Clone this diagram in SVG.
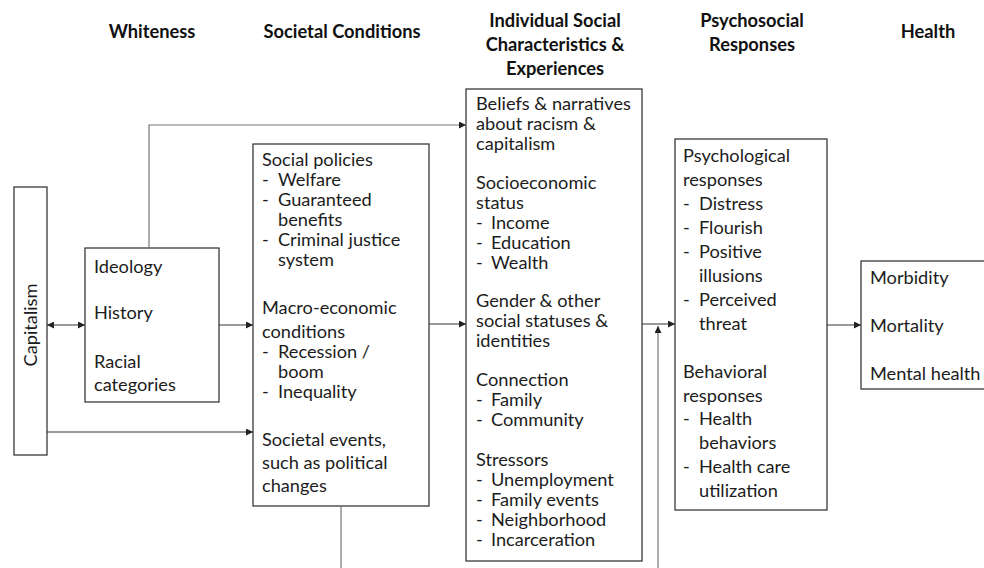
<svg xmlns="http://www.w3.org/2000/svg" width="984" height="568" viewBox="0 0 984 568">
<defs>
<marker id="ah" viewBox="0 0 10 10" refX="10" refY="5" markerWidth="7" markerHeight="7" markerUnits="userSpaceOnUse" orient="auto-start-reverse">
<path d="M0,0 L10,5 L0,10 z" fill="#222"/>
</marker>
<style>
.box{fill:#fff;stroke:#3a3a3a;stroke-width:1.3}
.t{font-family:Lato,"Liberation Sans",sans-serif;font-size:18.2px;fill:#1c1c1c}
.h{font-family:Lato,"Liberation Sans",sans-serif;font-size:18.3px;font-weight:bold;fill:#111;text-anchor:middle}
.c{fill:none;stroke:#333;stroke-width:1.2}
.g{fill:none;stroke:#777;stroke-width:1.2}
</style>
</defs>
<rect width="984" height="568" fill="#fff"/>

<g id="headers">
<text class="h" x="152" y="38">Whiteness</text>
<text class="h" x="342" y="38">Societal Conditions</text>
<text class="h" x="555" y="27">Individual Social</text>
<text class="h" x="555" y="51">Characteristics &amp;</text>
<text class="h" x="555" y="75">Experiences</text>
<text class="h" x="752" y="27">Psychosocial</text>
<text class="h" x="752" y="51">Responses</text>
<text class="h" x="928" y="38">Health</text>
</g>

<g id="capitalism">
<rect class="box" x="14" y="187" width="33" height="268"/>
<text class="t" transform="translate(37,325) rotate(-90)" text-anchor="middle">Capitalism</text>
</g>

<g id="whiteness">
<rect class="box" x="85" y="248" width="134" height="154"/>
<text class="t" x="94" y="273">Ideology</text>
<text class="t" x="94" y="319">History</text>
<text class="t" x="94" y="368">Racial</text>
<text class="t" x="94" y="391">categories</text>
</g>

<g id="societal">
<rect class="box" x="253" y="144" width="176" height="362"/>
<text class="t" x="262" y="166">Social policies</text>
<text class="t" x="262" y="186">-</text><text class="t" x="278" y="186">Welfare</text>
<text class="t" x="262" y="206">-</text><text class="t" x="278" y="206">Guaranteed</text>
<text class="t" x="278" y="226">benefits</text>
<text class="t" x="262" y="246">-</text><text class="t" x="278" y="246">Criminal justice</text>
<text class="t" x="278" y="266">system</text>
<text class="t" x="262" y="314">Macro-economic</text>
<text class="t" x="262" y="338">conditions</text>
<text class="t" x="262" y="358">-</text><text class="t" x="278" y="358">Recession /</text>
<text class="t" x="278" y="378">boom</text>
<text class="t" x="262" y="398">-</text><text class="t" x="278" y="398">Inequality</text>
<text class="t" x="262" y="446">Societal events,</text>
<text class="t" x="262" y="469">such as political</text>
<text class="t" x="262" y="492">changes</text>
</g>

<g id="individual">
<rect class="box" x="466" y="89" width="176" height="472"/>
<text class="t" x="476" y="110">Beliefs &amp; narratives</text>
<text class="t" x="476" y="130">about racism &amp;</text>
<text class="t" x="476" y="150">capitalism</text>
<text class="t" x="476" y="189">Socioeconomic</text>
<text class="t" x="476" y="209">status</text>
<text class="t" x="476" y="229">-</text><text class="t" x="491" y="229">Income</text>
<text class="t" x="476" y="249">-</text><text class="t" x="491" y="249">Education</text>
<text class="t" x="476" y="269">-</text><text class="t" x="491" y="269">Wealth</text>
<text class="t" x="476" y="307">Gender &amp; other</text>
<text class="t" x="476" y="327">social statuses &amp;</text>
<text class="t" x="476" y="347">identities</text>
<text class="t" x="476" y="386">Connection</text>
<text class="t" x="476" y="406">-</text><text class="t" x="491" y="406">Family</text>
<text class="t" x="476" y="426">-</text><text class="t" x="491" y="426">Community</text>
<text class="t" x="476" y="466">Stressors</text>
<text class="t" x="476" y="486">-</text><text class="t" x="491" y="486">Unemployment</text>
<text class="t" x="476" y="506">-</text><text class="t" x="491" y="506">Family events</text>
<text class="t" x="476" y="526">-</text><text class="t" x="491" y="526">Neighborhood</text>
<text class="t" x="476" y="546">-</text><text class="t" x="491" y="546">Incarceration</text>
</g>

<g id="psychosocial">
<rect class="box" x="675" y="139" width="152" height="371"/>
<text class="t" x="683" y="162">Psychological</text>
<text class="t" x="683" y="186">responses</text>
<text class="t" x="683" y="210">-</text><text class="t" x="699" y="210">Distress</text>
<text class="t" x="683" y="234">-</text><text class="t" x="699" y="234">Flourish</text>
<text class="t" x="683" y="258">-</text><text class="t" x="699" y="258">Positive</text>
<text class="t" x="699" y="282">illusions</text>
<text class="t" x="683" y="306">-</text><text class="t" x="699" y="306">Perceived</text>
<text class="t" x="699" y="330">threat</text>
<text class="t" x="683" y="378">Behavioral</text>
<text class="t" x="683" y="402">responses</text>
<text class="t" x="683" y="425">-</text><text class="t" x="699" y="425">Health</text>
<text class="t" x="699" y="449">behaviors</text>
<text class="t" x="683" y="473">-</text><text class="t" x="699" y="473">Health care</text>
<text class="t" x="699" y="497">utilization</text>
</g>

<g id="health">
<rect class="box" x="861" y="261" width="130" height="128"/>
<text class="t" x="870" y="284">Morbidity</text>
<text class="t" x="870" y="332">Mortality</text>
<text class="t" x="870" y="380">Mental health</text>
</g>

<g id="connectors">
<line class="c" x1="47" y1="325" x2="85" y2="325" marker-start="url(#ah)" marker-end="url(#ah)"/>
<path class="g" d="M149,248 V125 H466" marker-end="url(#ah)"/>
<line class="c" x1="219" y1="325" x2="253" y2="325" marker-end="url(#ah)"/>
<line class="c" x1="47" y1="432" x2="253" y2="432" marker-end="url(#ah)"/>
<line class="c" x1="429" y1="324" x2="466" y2="324" marker-end="url(#ah)"/>
<line class="g" x1="341" y1="506" x2="341" y2="568"/>
<line class="c" x1="642" y1="324" x2="675" y2="324" marker-end="url(#ah)"/>
<line class="g" x1="658" y1="568" x2="658" y2="326" marker-end="url(#ah)"/>
<line class="c" x1="827" y1="325" x2="861" y2="325" marker-end="url(#ah)"/>
</g>
</svg>
